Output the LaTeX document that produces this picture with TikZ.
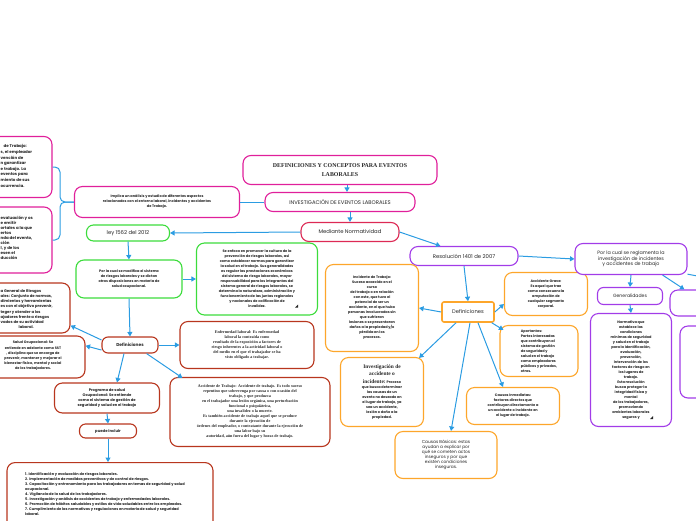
\documentclass[tikz,border=0pt]{standalone}
\usepackage{fontspec}
\setmainfont{Poppins}
\newfontfamily\titlefont{Liberation Serif}
\usepackage{tikz}
\usetikzlibrary{arrows.meta,calc}

\definecolor{DCMagenta}{HTML}{E0209B}
\definecolor{DCRose}   {HTML}{DD2A55}
\definecolor{DCGreen}  {HTML}{3CDC3C}
\definecolor{DCBrown}  {HTML}{B8361E}
\definecolor{DCOrange} {HTML}{FDA62B}
\definecolor{DCPurple} {HTML}{A23CE8}
\definecolor{DCBlue}   {HTML}{2B9CE2}
\definecolor{DCText}   {HTML}{262626}

\newcommand{\tinytext}{\bfseries\fontsize{3.5}{5}\selectfont}
\newcommand{\headtext}{\fontsize{5.3}{6.4}\selectfont}
\newcommand{\seriftext}{\titlefont\bfseries\fontsize{4.1}{5.1}\selectfont}
\newcommand{\invhead}{\titlefont\bfseries\fontsize{5.4}{7.2}\selectfont}

\tikzset{
  topic/.style={draw, line width=1.1pt, rounded corners=8pt, fill=white,
    align=center, inner sep=1pt, text=DCText},
  magbox/.style={topic, draw=DCMagenta},
  rosebox/.style={topic, draw=DCRose},
  greenbox/.style={topic, draw=DCGreen},
  brownbox/.style={topic, draw=DCBrown},
  orangebox/.style={topic, draw=DCOrange},
  purplebox/.style={topic, draw=DCPurple},
  cuttext/.style={align=left, anchor=west, inner sep=0pt, text=DCText},
  link/.style={DCBlue, line width=1pt, -{Triangle[length=4.5pt,width=5pt]}},
  plainlink/.style={DCBlue, line width=1pt},
}

\begin{document}
\begin{tikzpicture}[x=1pt,y=-1pt]
  \useasboundingbox (0,0) rectangle (696,520);
  \clip (0,0) rectangle (696,520);

  % centre
  \node[magbox, minimum width=194pt, minimum height=29pt,
    font=\titlefont\bfseries\fontsize{5.9}{8.6}\selectfont] (tit) at (340,170)
    {DEFINICIONES Y CONCEPTOS PARA EVENTOS\\LABORALES};
  \node[magbox, minimum width=150pt, minimum height=19pt, font=\headtext] (inv) at (340,202)
    {INVESTIGACIÓN DE EVENTOS LABORALES};
  \node[rosebox, minimum width=98pt, minimum height=19pt, font=\headtext] (med) at (350,232)
    {Mediante Normatividad};
  \node[magbox, minimum width=165pt, minimum height=31pt, font=\tinytext] (impl) at (157,202)
    {Implica un análisis y estudio de diferentes aspectos\\
     relacionados con el entorno laboral, incidentes y accidentes\\
     de Trabajo.};

  % left magenta boxes (cut by the page edge)
  \node[magbox, minimum width=134pt, minimum height=61pt] (mga) at (-15,167) {};
  \node[cuttext, font=\bfseries\fontsize{4}{5.6}\selectfont] (mgatxt) at (0.5,166)
    {\hspace*{3pt}de Trabajo:\\s, el empleador\\vención de\\n garantizar\\e trabajo. La\\
     eventos para\\miento de sus\\ocurrencia.};
  \node[magbox, minimum width=134pt, minimum height=66pt] (mgb) at (-15,240) {};
  \node[cuttext, font=\bfseries\fontsize{4}{5}\selectfont] (mgbtxt) at (0.5,238)
    {evaluación y os\\e emitir\\ortales a la que\\ertos\\nda del evento,\\ción\\
     l, y de los\\esen el\\ducción};

  % ley 1562
  \node[greenbox, minimum width=83pt, minimum height=16pt, rounded corners=7pt,
    font=\headtext] (ley) at (128,233) {ley 1562 del 2012};
  \node[greenbox, minimum width=106pt, minimum height=38pt, font=\tinytext] (porm) at (129,279)
    {Por la cual se modifica el sistema\\de riesgos laborales y se dictan\\
     otras disposiciones en materia de\\salud ocupacional.};
  \node[greenbox, minimum width=121pt, minimum height=72pt, font=\tinytext] (sef) at (257,279)
    {Se enfoca en promover la cultura de la\\prevención de riesgos laborales, así\\
     como establecer normas para garantizar\\la salud en el trabajo. Sus generalidades\\
     es regular las prestaciones económicas\\del sistema de riesgo laborales, mayor\\
     responsabilidad para los integrantes del\\sistema general de riesgos laborales, se\\
     determina la naturaleza, administración y\\funcionamiento de las juntas regionales\\
     y nacionales de calificación de\\invalidez.};
  \fill[DCText] ($(sef.south east)+(-23,-8)$) -- ++(3,0) -- ++(0,-3) -- cycle;

  % definiciones (ley 1562)
  \node[brownbox, minimum width=56pt, minimum height=16pt, rounded corners=6pt,
    font=\bfseries\fontsize{4.3}{5}\selectfont] (defl) at (130,345) {Definiciones};
  \node[brownbox, minimum width=130pt, minimum height=50pt] (sis) at (5,308) {};
  \node[cuttext, font=\bfseries\fontsize{3.8}{5.1}\selectfont] (sistxt) at (0.5,309)
    {a General de Riesgos\\ales: Conjunto de normas,\\dimientos y herramientas\\
     es con el objetivo prevenir,\\teger y atender a los\\ajadores frente a riesgos\\
     vados de su actividad\\\hspace*{18pt}laboral.};
  \node[brownbox, minimum width=126pt, minimum height=42pt] (sal) at (22,357) {};
  \node[align=center, inner sep=0pt, text=DCText,
    font=\bfseries\fontsize{3.5}{5.2}\selectfont] (saltxt) at (33,356)
    {Salud Ocupacional: Se\\entiende en adelante como SST\\, disciplina que se encarga de\\
     prevenir, mantener y mejorar el\\bienestar físico, mental y social\\de los trabajadores.};
  \node[brownbox, minimum width=134pt, minimum height=47pt, font=\seriftext] (enf) at (247,345)
    {Enfermedad laboral: Es enfermedad\\laboral la contraída como\\
     resultado de la exposición a factores de\\riesgo inherentes a la actividad laboral o\\
     del medio en el que el trabajador se ha\\visto obligado a trabajar.};
  \node[brownbox, minimum width=160pt, minimum height=69pt,
    font=\titlefont\bfseries\fontsize{4.1}{5}\selectfont] (acc) at (250,412)
    {Accidente de Trabajo: Accidente de trabajo. Es todo suceso\\
     repentino que sobrevenga por causa o con ocasión del\\trabajo, y que produzca\\
     en el trabajador una lesión orgánica, una perturbación\\funcional o psiquiátrica,\\
     una invalidez o la muerte.\\Es también accidente de trabajo aquel que se produce\\
     durante la ejecución de\\órdenes del empleador, o contratante durante la ejecución de\\
     una labor bajo su\\autoridad, aún fuera del lugar y horas de trabajo.};
  \node[brownbox, minimum width=105pt, minimum height=30pt,
    font=\bfseries\fontsize{3.7}{5.2}\selectfont] (prog) at (107,398)
    {Programa de salud\\Ocupacional: Se entiende\\como el sistema de gestión de\\
     seguridad y salud en el trabajo};
  \node[brownbox, minimum width=57pt, minimum height=14pt, rounded corners=6pt,
    font=\bfseries\fontsize{3.8}{5}\selectfont] (pue) at (108,431) {puede incluir};
  \node[brownbox, minimum width=206pt, minimum height=80pt, anchor=north] (lst) at (110,462) {};
  \node[align=left, anchor=north west, inner sep=0pt, text=DCText,
    font=\bfseries\fontsize{3.6}{5}\selectfont] (lsttxt) at (25,472)
    {1. Identificación y evaluación de riesgos laborales.\\
     2. Implementación de medidas preventivas y de control de riesgos.\\
     3. Capacitación y entrenamiento para los trabajadores en temas de seguridad y salud\\
     ocupacional.\\
     4. Vigilancia de la salud de los trabajadores.\\
     5. Investigación y análisis de accidentes de trabajo y enfermedades laborales.\\
     6. Promoción de hábitos saludables y estilos de vida saludables entre los empleados.\\
     7. Cumplimiento de las normativas y regulaciones en materia de salud y seguridad\\
     laboral.};

  % resolución 1401
  \node[purplebox, minimum width=108pt, minimum height=19pt, font=\headtext] (res) at (464,256)
    {Resolución 1401 de 2007};
  \node[orangebox, minimum width=52pt, minimum height=20pt, rounded corners=2pt,
    line width=1.6pt, font=\fontsize{5.2}{6}\selectfont] (defr) at (468,312) {Definiciones};
  \node[orangebox, minimum width=93pt, minimum height=87pt, font=\tinytext] (inc) at (372,308)
    {Incidente de Trabajo:\\Suceso acaecido en el\\curso\\del trabajo o en relación\\
     con este, que tuvo el\\potencial de ser un\\accidente, en el que hubo\\
     personas involucradas sin\\que sufrieran\\lesiones o se presentaran\\
     daños a la propiedad y/o\\pérdida en los\\procesos.};
  \node[orangebox, minimum width=83pt, minimum height=43pt, font=\tinytext] (grave) at (546,294)
    {Accidente Grave:\\Es aquel que trae\\como consecuencia\\amputación de\\
     cualquier segmento\\corporal.};
  \node[orangebox, minimum width=78pt, minimum height=51pt, align=left, font=\tinytext] (apor) at (539,351)
    {Aportantes:\\Partes interesadas\\que contribuyen al\\sistema de gestión\\de seguridad y\\
     salud en el trabajo\\como empleadores\\públicos y privados,\\otros.};
  \node[orangebox, minimum width=93pt, minimum height=37pt, font=\tinytext] (inm) at (513,406)
    {Causas Inmediatas:\\factores directos que\\contribuyen directamente a\\
     un accidente o incidente en\\el lugar de trabajo.};
  \node[orangebox, minimum width=102pt, minimum height=47pt, font=\fontsize{4.3}{4.9}\selectfont] (bas) at (446,455)
    {Causas Básicas: estas\\ayudan a explicar por\\qué se cometen actos\\
     inseguros y por que\\existen condiciones\\inseguras.};
  \node[orangebox, minimum width=83pt, minimum height=69pt, font=\tinytext] (invac) at (382,392)
    {{\invhead Investigación de}\\[2.5pt]{\invhead accidente o}\\[2.5pt]
     {\invhead incidente:} Proceso\\que busca determinar\\las causas de un\\evento no deseado en\\
     el lugar de trabajo, ya\\sea un accidente,\\lesión o daño a la\\propiedad.};

  \node[purplebox, minimum width=112pt, minimum height=31pt,
    font=\fontsize{4.8}{5.6}\selectfont] (porq) at (631,259)
    {Por la cual se reglamenta la\\investigación de incidentes\\y accidentes de trabajo};
  \node[purplebox, minimum width=65pt, minimum height=17pt, rounded corners=6pt,
    font=\fontsize{4.6}{5.4}\selectfont] (gen) at (630,296) {Generalidades};
  \node[purplebox, minimum width=100pt, minimum height=26pt] (rba) at (720,303) {};
  \node[purplebox, minimum width=100pt, minimum height=72pt] (rbb) at (730,362) {};
  \node[purplebox, minimum width=81pt, minimum height=113pt, font=\tinytext] (nor) at (631,370)
    {Normativa que\\establece las\\condiciones\\mínimas de seguridad\\y salud en el trabajo\\
     para la identificación,\\evaluación,\\prevención,\\intervención de los\\
     factores de riesgo en\\los lugares de\\trabajo.\\Esta resolución\\busca proteger la\\
     integridad física y\\mental\\de los trabajadores,\\promoviendo\\ambientes laborales\\
     seguros y};
  \fill[DCText] ($(nor.south east)+(-22,-8)$) -- ++(3,0) -- ++(0,-3) -- cycle;
  \coordinate (offr) at (740,284);

  % connectors
  \draw[link] ($(tit.south)+(7,0)$) -- ($(inv.north)+(7,0)$);
  \draw[link] ($(inv.south)+(10,0)$) -- (med.north);
  \draw[plainlink] (inv.west) -- (impl.east);
  \draw[plainlink, rounded corners=5pt] (impl.west) -- (60,202) |- (mga.east);
  \draw[plainlink, rounded corners=5pt] (impl.west) -- (60,202) |- (mgb.east);
  \draw[link] (med.west) -- (ley.east);
  \draw[link] (ley.south) -- (porm.north);
  \draw[link] (porm.east) -- (sef.west);
  \draw[link] (porm.south) -- (defl.north);
  \draw[link] (defl.170) -- (sis.-15);
  \draw[link] (defl.190) -- (sal.10);
  \draw[link] (defl.east) -- (enf.west);
  \draw[link] ($(defl.south)+(-6,0)$) -- ($(prog.north)+(10,0)$);
  \draw[link] ($(defl.south east)+(-12,0)$) -- ($(acc.north west)+(13,1)$);
  \draw[link] (prog.south) -- (pue.north);
  \draw[link] (pue.south) -- (pue.south |- lst.north);

  \draw[link] (med.east) -- ($(res.north west)+(31,0)$);
  \draw[link] (res.south) -- (defr.north);
  \draw[link] (res.east) -- (porq.west);
  \draw[link] (defr.west) -- (inc.east);
  \draw[link] (defr.east) -- ($(grave.west)+(0,10)$);
  \draw[link] ($(defr.south east)+(-3,0)$) -- ($(apor.north west)+(4,5)$);
  \draw[link] ($(defr.south)+(10,0)$) -- ($(inm.north)+(-10,0)$);
  \draw[link] ($(defr.south)+(2,0)$) -- ($(bas.north)+(5,0)$);
  \draw[link] ($(defr.south)+(-12,0)$) -- ($(invac.north east)+(-5,1)$);
  \draw[link] (porq.south) -- (gen.north);
  \draw[link] ($(porq.south east)+(-25,0)$) -- ($(rba.north west)+(15,0)$);
  \draw[link] (porq.-15) -- (offr);
  \draw[link] (gen.south) -- (nor.north);
\end{tikzpicture}
\end{document}
